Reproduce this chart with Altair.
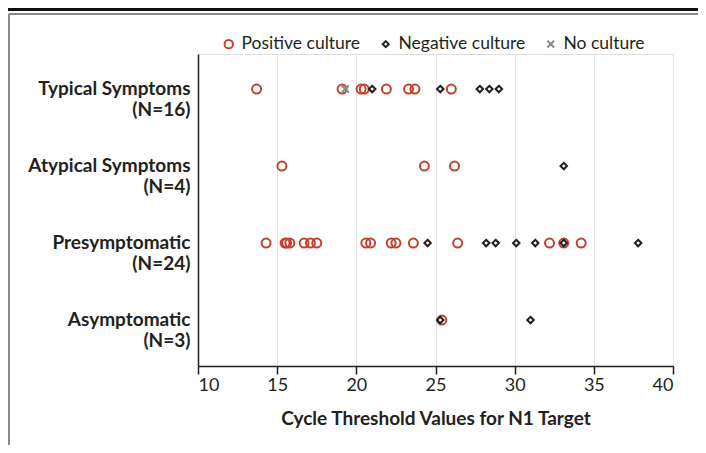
import altair as alt
import pandas as pd

# ---- data ----
cat_names = ["Typical Symptoms", "Atypical Symptoms", "Presymptomatic", "Asymptomatic"]
cat_counts = [16, 4, 24, 3]
status_names = ["Positive culture", "Negative culture", "No culture"]

typical_pos = [13.7, 19.1, 20.3, 20.5, 21.9, 23.3, 23.7, 26.0]
typical_neg = [21.0, 25.3, 27.8, 28.4, 29.0]
typical_none = [19.3]
atypical_pos = [15.3, 24.3, 26.2]
atypical_neg = [33.1]
presym_pos = [14.3, 15.5, 15.6, 15.8, 16.7, 17.1, 17.5, 20.6, 20.9, 22.2, 22.5,
              23.6, 26.4, 32.2, 33.1, 34.2]
presym_neg = [24.5, 28.2, 28.8, 30.1, 31.3, 33.1, 37.8]
asym_pos = [25.4]
asym_neg = [25.3, 31.0]

x_ticks = [10, 15, 20, 25, 30, 35, 40]

# row position: top row gets the highest value
n_cat = len(cat_names)
row_of = {name: n_cat - 1 - i for i, name in enumerate(cat_names)}

groups = [
    (cat_names[0], status_names[0], typical_pos),
    (cat_names[1], status_names[0], atypical_pos),
    (cat_names[2], status_names[0], presym_pos),
    (cat_names[3], status_names[0], asym_pos),
    (cat_names[0], status_names[1], typical_neg),
    (cat_names[1], status_names[1], atypical_neg),
    (cat_names[2], status_names[1], presym_neg),
    (cat_names[3], status_names[1], asym_neg),
    (cat_names[0], status_names[2], typical_none),
]
rows = []
for cat, st, vals in groups:
    for v in vals:
        rows.append({"cat": cat, "row": row_of[cat], "status": st, "ct": v})
df = pd.DataFrame(rows)

# multi-line axis labels, indexed by row value
label_items = []
for r in range(n_cat):
    i = n_cat - 1 - r
    label_items.append("['%s', '(N=%d)']" % (cat_names[i], cat_counts[i]))
label_expr = "[" + ", ".join(label_items) + "][datum.value]"

RED = "#c4402c"
BLACK = "#231f20"
GRAY = "#8a8a8a"
FONT = "Lato"

legend_opts = dict(
    title=None, orient="none", direction="horizontal", legendX=22, legendY=-19,
    labelFont=FONT, labelFontSize=17.5, labelColor=BLACK, labelOffset=4,
    columnPadding=16, symbolStrokeWidth=2, symbolSize=70, padding=0,
)

points = alt.Chart(df).mark_point(filled=False, strokeWidth=2, size=81, opacity=1).encode(
    x=alt.X(
        "ct:Q",
        scale=alt.Scale(domain=[10, 40], nice=False, zero=False),
        axis=alt.Axis(
            values=x_ticks, format="d", title="Cycle Threshold Values for N1 Target",
            grid=True, gridColor="#e3e3e3", gridWidth=1,
            domainColor=BLACK, domainWidth=1.5, tickColor=BLACK, tickSize=8, tickWidth=1.5,
            labelFont=FONT, labelFontSize=18, labelColor=BLACK, labelPadding=2,
            titleFont=FONT, titleFontSize=19, titleFontWeight="bold", titleColor=BLACK,
            titlePadding=15,
        ),
    ),
    y=alt.Y(
        "row:Q",
        scale=alt.Scale(domain=[-0.597, 3.455], nice=False, zero=False),
        axis=alt.Axis(
            title=None, ticks=False, grid=False, values=list(range(n_cat)),
            domainColor=BLACK, domainWidth=1.5,
            labelFont=FONT, labelFontSize=19, labelFontWeight="bold", labelColor=BLACK,
            labelLineHeight=21, labelPadding=8, labelBaseline="middle", labelOffset=-1,
            labelExpr=label_expr,
        ),
    ),
    color=alt.Color(
        "status:N",
        scale=alt.Scale(domain=status_names, range=[RED, BLACK, GRAY]),
        legend=alt.Legend(**legend_opts),
    ),
    shape=alt.Shape(
        "status:N",
        scale=alt.Scale(
            domain=status_names,
            range=["circle", "M0,-0.72L0.72,0L0,0.72L-0.72,0Z",
                   "M-0.8,-0.8L0.8,0.8M0.8,-0.8L-0.8,0.8"],
        ),
        legend=alt.Legend(**legend_opts),
    ),
)

frame_df = pd.DataFrame({"k": [0]})
top_black = alt.Chart(frame_df).mark_rule(color="#111111", strokeWidth=3).encode(
    x=alt.value(-190), x2=alt.value(500), y=alt.value(-44.5)
)
top_gray = alt.Chart(frame_df).mark_rule(color="#8a8a8a", strokeWidth=2).encode(
    x=alt.value(-189), x2=alt.value(500), y=alt.value(-40)
)
left_gray = alt.Chart(frame_df).mark_rule(color="#8a8a8a", strokeWidth=2).encode(
    x=alt.value(-189), y=alt.value(-40), y2=alt.value(391)
)

chart = alt.layer(top_black, top_gray, left_gray, points).properties(
    width=475, height=312,
    autosize="none",
    padding={"left": 190, "top": 46, "right": 25, "bottom": 79},
    background="white",
).configure_view(stroke=None).configure(font=FONT)

chart.save("out.html", embed_options={"renderer": "svg", "actions": False})
